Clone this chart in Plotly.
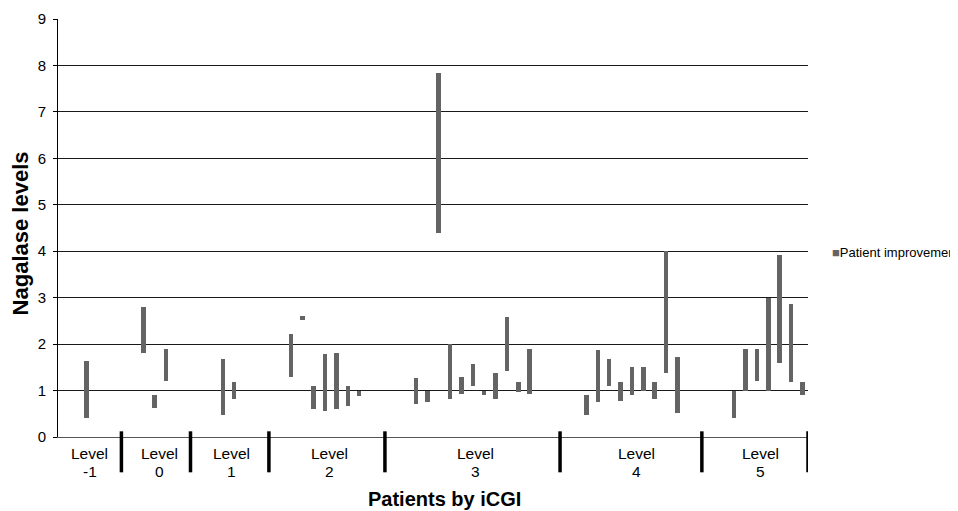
import plotly.graph_objects as go

# ---- data ----
group_word = "Level"
group_names = ["-1", "0", "1", "2", "3", "4", "5"]
group_label_pos = [2.3, 8.45, 14.75, 23.35, 36.2, 50.4, 61.3]
group_separators = [5.08, 11.16, 18.06, 28.27, 43.68, 56.16, 65.5]

patient_slot = [2,
                7, 8, 9,
                14, 15,
                20, 21, 22, 23, 24, 25, 26,
                31, 32, 33, 34, 35, 36, 37, 38, 39, 40, 41,
                46, 47, 48, 49, 50, 51, 52, 53, 54,
                59, 60, 61, 62, 63, 64, 65]
nagalase_low = [0.40,
                1.81, 0.63, 1.21,
                0.47, 0.82,
                1.29, 2.51, 0.61, 0.57, 0.61, 0.67, 0.88,
                0.72, 0.75, 4.40, 0.81, 0.93, 1.09, 0.91, 0.81, 1.42, 0.96, 0.93,
                0.47, 0.75, 1.10, 0.78, 0.91, 1.00, 0.81, 1.38, 0.52,
                0.41, 1.00, 1.21, 1.00, 1.59, 1.19, 0.91]
nagalase_high = [1.64,
                 2.80, 0.91, 1.90,
                 1.69, 1.18,
                 2.21, 2.60, 1.09, 1.79, 1.81, 1.09, 0.99,
                 1.28, 0.99, 7.83, 2.00, 1.29, 1.57, 1.00, 1.38, 2.59, 1.19, 1.90,
                 0.91, 1.88, 1.69, 1.19, 1.50, 1.50, 1.19, 4.00, 1.73,
                 0.99, 1.90, 1.90, 3.00, 3.92, 2.87, 1.19]
y_ticks = [0, 1, 2, 3, 4, 5, 6, 7, 8, 9]
series_name = "Patient improvement"
x_title = "Patients by iCGI"
y_title = "Nagalase levels"

FONT = "Liberation Sans, Arial, sans-serif"
BAR = "#646464"

fig = go.Figure()
fig.add_trace(go.Bar(
    x=patient_slot,
    base=nagalase_low,
    y=[h - l for h, l in zip(nagalase_high, nagalase_low)],
    width=0.4,
    marker=dict(color=BAR, line=dict(width=0)),
    name=series_name,
    showlegend=False,
))

shapes = []
for s in group_separators:
    shapes.append(dict(type="line", xref="x", yref="paper", x0=s, x1=s,
                       y0=0.0136, y1=-0.0845,
                       line=dict(color="black", width=3.5)))

annotations = []
for name, pos in zip(group_names, group_label_pos):
    annotations.append(dict(text=group_word, x=pos, xref="x", y=-0.040, yref="paper",
                            xanchor="center", yanchor="middle", showarrow=False,
                            font=dict(family=FONT, size=15.5, color="black")))
    annotations.append(dict(text=name, x=pos, xref="x", y=-0.083, yref="paper",
                            xanchor="center", yanchor="middle", showarrow=False,
                            font=dict(family=FONT, size=15.5, color="black")))
annotations.append(dict(text=f"<b>{x_title}</b>", x=0.5155, xref="paper",
                        y=-0.149, yref="paper", xanchor="center", yanchor="middle",
                        showarrow=False, font=dict(family=FONT, size=20, color="black")))
annotations.append(dict(text=f"<b>{y_title}</b>", x=-0.0507, xref="paper",
                        y=0.487, yref="paper", xanchor="center", yanchor="middle",
                        textangle=-90, showarrow=False,
                        font=dict(family=FONT, size=22, color="black")))
# legend entry (swatch + series name)
annotations.append(dict(text=f'<span style="color:{BAR}">■</span>{series_name}',
                        x=1.029, xref="paper", y=0.442, yref="paper",
                        xanchor="left", yanchor="middle", showarrow=False,
                        font=dict(family=FONT, size=13, color="black")))

fig.update_layout(
    width=950, height=503,
    margin=dict(l=50, r=150, t=11, b=74),
    paper_bgcolor="white", plot_bgcolor="white",
    font=dict(family=FONT, size=13, color="black"),
    shapes=shapes,
    annotations=annotations,
    showlegend=False,
    bargap=0,
)
fig.update_xaxes(range=[-0.5, 65.5], showticklabels=False, ticks="",
                 showgrid=False, zeroline=False, showline=True,
                 linecolor="#555555", linewidth=1, automargin=False)
fig.update_yaxes(range=[0, 9], tickvals=y_ticks, showgrid=True,
                 gridcolor="#1a1a1a", gridwidth=1, zeroline=False,
                 showline=True, linecolor="black", linewidth=1,
                 ticks="outside", ticklen=4, tickcolor="black",
                 ticklabelstandoff=4, automargin=False,
                 tickfont=dict(family=FONT, size=15, color="black"))

fig.write_html("out.html")
